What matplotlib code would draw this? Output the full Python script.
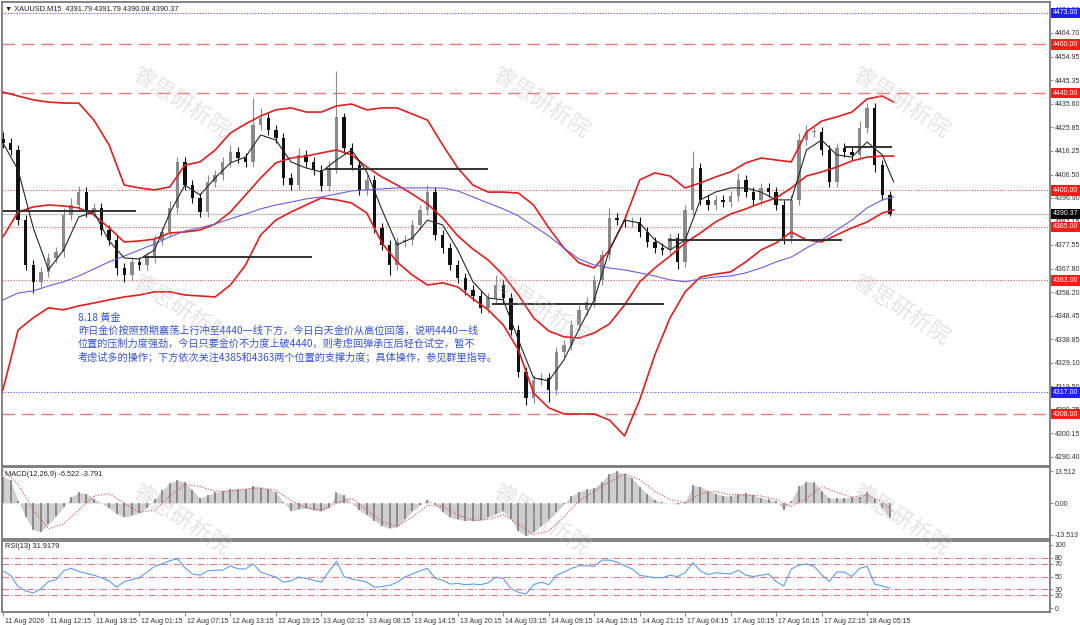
import matplotlib
matplotlib.use("Agg")
import matplotlib.pyplot as plt
import matplotlib.transforms as mtransforms
import numpy as np

# ---------------- data ----------------
# hourly-ish candles (every 4th M15 bar)
first_open = 4421.0
closes = [4419.5, 4416.6, 4387.9, 4369.3, 4362.4, 4366.5, 4372.2, 4374.7, 4389.9, 4394.0,
          4399.3, 4391.1, 4392.8, 4383.7, 4379.6, 4368.1, 4365.2, 4370.6, 4369.3, 4372.2,
          4379.6, 4382.9, 4392.8, 4411.7, 4402.2, 4396.9, 4391.1, 4403.5, 4406.3, 4411.7,
          4415.8, 4413.3, 4411.7, 4426.9, 4429.8, 4424.8, 4421.5, 4405.1, 4402.2, 4414.6,
          4411.7, 4408.4, 4401.8, 4409.2, 4430.0, 4417.4, 4410.4, 4400.2, 4404.3, 4384.5,
          4377.6, 4369.3, 4378.8, 4379.6, 4385.8, 4392.0, 4399.3, 4381.7, 4376.3, 4369.3,
          4364.0, 4359.1, 4356.6, 4351.7, 4355.8, 4361.1, 4355.8, 4342.6, 4325.4, 4314.7,
          4322.1, 4322.9, 4318.0, 4333.6, 4336.5, 4344.7, 4350.9, 4354.1, 4363.2, 4373.5,
          4388.7, 4387.9, 4387.0, 4387.0, 4382.9, 4378.8, 4376.3, 4375.5, 4380.4, 4370.6,
          4391.9, 4409.2, 4396.1, 4394.0, 4396.1, 4395.2, 4397.7, 4404.3, 4399.3, 4396.1,
          4401.0, 4399.3, 4394.0, 4380.4, 4396.1, 4420.7, 4424.0, 4424.0, 4416.6, 4403.5,
          4417.4, 4415.8, 4414.6, 4425.7, 4433.9, 4410.4, 4398.1, 4390.37]
wick_up = [3, 2, 2, 2, 2, 2, 2, 2, 3, 3,
           2.5, 2, 2, 2, 2, 2, 2, 2, 2, 2,
           2, 2, 3, 2, 2, 2, 2, 3, 2, 2,
           3, 2, 2, 11, 4, 2, 2, 2, 2, 3,
           2, 2, 2, 3, 19, 2, 2, 2, 2, 2,
           2, 2, 2, 2, 2, 2, 3, 2, 2, 2,
           2, 2, 2, 2, 2, 4, 2, 2, 2, 2,
           2, 2, 2, 2, 2, 2, 2, 2, 2, 2,
           4, 2, 2, 2, 2, 2, 2, 2, 2, 2,
           2, 7, 2, 2, 2, 2, 2, 3, 2, 2,
           2, 2, 2, 2, 2, 3, 3, 2, 2, 2,
           2, 2, 2, 3, 2, 2, 2, 1.5]
wick_dn = [2, 2, 2, 2, 4.5, 2, 2, 2, 2, 2,
           2, 2, 2, 2, 2, 3, 3, 2, 2, 2,
           2, 2, 2, 2, 2, 2, 2, 2, 2, 2,
           2, 2, 2, 2, 2, 2, 2, 3, 2, 2,
           2, 2, 2, 2, 2, 2, 2, 2, 2, 2,
           2, 4, 2, 2, 2, 2, 2, 2, 2, 2,
           2, 2, 2, 2, 2, 2, 2, 2, 2, 3,
           2, 2, 5, 2, 2, 2, 2, 2, 2, 2,
           2, 2, 2, 2, 2, 2, 2, 2, 2, 3,
           2, 2, 2, 2, 2, 2, 2, 2, 2, 2,
           2, 2, 2, 2.5, 2, 2, 2, 2, 2, 2,
           2, 2, 2, 2, 2, 3, 2, 1]

# indicator lines sampled every 8 bars
bb_upper = [4440.4, 4438.8, 4437.2, 4436.3, 4435.9, 4435.9, 4428.9, 4418.7, 4402.2, 4401.0,
            4400.2, 4401.4, 4410.4, 4411.7, 4416.6, 4423.6, 4427.3, 4430.6, 4433.1, 4433.9,
            4432.2, 4432.2, 4434.7, 4435.5, 4433.1, 4433.9, 4433.9, 4431.4, 4428.9, 4418.7,
            4409.2, 4402.2, 4399.3, 4399.3, 4398.9, 4394.0, 4384.6, 4376.3, 4370.2, 4368.1,
            4375.5, 4387.8, 4404.3, 4407.2, 4405.9, 4401.0, 4403.1, 4405.5, 4407.6, 4411.3,
            4413.3, 4412.5, 4411.7, 4424.0, 4428.5, 4430.2, 4432.2, 4437.6, 4438.8, 4436.3]
bb_mid = [4380.9, 4391.1, 4393.2, 4394.0, 4393.6, 4392.8, 4389.9, 4384.6, 4378.8, 4379.2,
          4380.0, 4382.5, 4382.9, 4383.7, 4386.2, 4391.1, 4398.1, 4405.1, 4411.3, 4413.3,
          4414.1, 4415.4, 4416.6, 4414.6, 4409.6, 4405.5, 4402.2, 4398.5, 4394.4, 4388.7,
          4381.3, 4375.9, 4371.4, 4365.2, 4357.0, 4347.6, 4342.2, 4339.8, 4339.3, 4341.4,
          4345.1, 4352.9, 4362.4, 4368.1, 4373.0, 4378.4, 4382.5, 4387.0, 4390.3, 4392.4,
          4394.8, 4396.9, 4401.0, 4405.9, 4407.6, 4409.6, 4412.1, 4413.7, 4414.1, 4414.1]
bb_lower = [4318.0, 4342.6, 4347.6, 4351.7, 4350.9, 4352.5, 4353.7, 4355.0, 4356.2, 4357.0,
            4358.3, 4358.3, 4357.0, 4356.6, 4356.2, 4361.1, 4369.3, 4381.7, 4387.8, 4391.1,
            4394.0, 4396.9, 4396.1, 4394.8, 4390.7, 4378.4, 4370.6, 4365.2, 4361.1, 4362.0,
            4360.3, 4355.4, 4350.9, 4344.7, 4334.4, 4316.7, 4310.6, 4308.1, 4308.1, 4308.1,
            4305.6, 4299.1, 4313.9, 4332.4, 4347.6, 4358.3, 4364.4, 4365.6, 4366.5, 4370.6,
            4375.5, 4378.4, 4382.9, 4379.6, 4378.8, 4381.7, 4384.6, 4387.0, 4390.7, 4392.0]
ma_fast = [4419.5, 4408.4, 4384.6, 4367.3, 4375.5, 4389.1, 4391.1, 4379.2, 4372.2, 4371.8,
           4375.5, 4390.7, 4402.2, 4398.1, 4405.1, 4411.3, 4413.7, 4422.8, 4420.7, 4411.7,
           4409.2, 4407.6, 4412.5, 4416.6, 4407.6, 4392.0, 4377.6, 4380.4, 4387.8, 4385.8,
           4375.5, 4362.4, 4355.8, 4355.0, 4338.5, 4322.9, 4321.7, 4330.3, 4343.0, 4355.0,
           4375.5, 4387.8, 4386.6, 4379.6, 4375.5, 4379.6, 4396.1, 4399.3, 4401.0, 4401.0,
           4399.3, 4396.1, 4396.1, 4416.6, 4420.7, 4414.6, 4413.7, 4419.9, 4414.6, 4403.5]
ma_slow = [4355.0, 4357.8, 4358.7, 4360.7, 4362.4, 4364.8, 4367.7, 4370.6, 4373.0, 4375.5,
           4378.0, 4380.9, 4383.3, 4384.6, 4386.2, 4388.3, 4390.3, 4392.4, 4394.0, 4395.2,
           4396.5, 4397.3, 4398.5, 4399.8, 4400.2, 4400.6, 4401.0, 4401.0, 4401.0, 4401.0,
           4399.8, 4397.3, 4394.8, 4392.4, 4389.5, 4385.4, 4381.3, 4376.3, 4371.8, 4369.3,
           4368.1, 4367.3, 4366.1, 4364.8, 4363.2, 4362.4, 4363.6, 4364.4, 4364.8, 4366.1,
           4368.1, 4370.6, 4372.6, 4376.3, 4379.6, 4383.7, 4387.8, 4392.8, 4396.1, 4397.3]

macd_hist = [11.3, 9.8, 1.0, -6.0, -11.5, -12.2, -9.0, -5.7, -1.8, 2.7,
             4.5, 4.0, 1.9, 0.0, -2.2, -4.5, -6.0, -5.3, -4.2, -2.0,
             1.5, 5.5, 8.5, 9.8, 8.8, 5.6, 2.0, 3.5, 4.5, 5.0,
             6.1, 6.0, 6.0, 7.2, 6.4, 6.2, 4.6, 0.5, -3.4, -2.6,
             -2.2, -3.1, -3.6, -2.0, 4.5, 3.3, -0.2, -3.0, -5.2, -7.5,
             -9.7, -10.9, -10.2, -7.0, -3.5, -1.0, 1.4, -0.8, -3.8, -6.2,
             -7.0, -7.5, -7.5, -7.4, -6.2, -4.6, -3.6, -7.0, -12.0, -14.0,
             -12.5, -9.8, -7.0, -4.0, -0.5, 3.0, 4.8, 5.8, 6.4, 9.0,
             12.5, 13.6, 12.2, 10.5, 7.0, 3.8, 1.4, 0.3, 0.0, -0.5,
             0.5, 7.5, 7.0, 5.3, 4.0, 3.2, 2.9, 3.8, 4.2, 3.3,
             2.1, 1.5, 0.8, -2.8, 1.0, 7.3, 9.0, 8.9, 5.0, 2.2,
             2.0, 2.2, 2.4, 2.6, 4.8, 1.5, -2.2, -6.5]
macd_signal = [14.0, 8.0, -3.0, -11.0, -9.0, -3.0, 3.0, 4.0, 0.0, -4.0,
               -3.0, 3.0, 8.0, 7.0, 5.0, 5.0, 6.0, 6.5, 5.5, 1.0,
               -2.0, -3.0, 0.0, 2.0, -3.0, -8.0, -10.0, -6.0, -1.0, -1.5,
               -5.0, -7.5, -7.0, -5.0, -9.0, -13.5, -12.0, -6.0, 1.0, 5.0,
               9.0, 12.5, 10.0, 5.0, 1.5, 0.0, 4.0, 5.0, 3.5, 3.5,
               3.0, 1.5, -1.5, 2.0, 7.0, 4.5, 2.5, 3.5, 0.5, -3.8]
rsi = [59, 52, 34, 27, 24, 30, 42, 45, 59, 63,
       58, 55, 52, 48, 43, 33, 42, 45, 48, 57,
       66, 70, 75, 78, 64, 54, 52, 59, 60, 60,
       67, 62, 62, 70, 57, 53, 49, 41, 43, 49,
       47, 44, 41, 58, 74, 50, 46, 44, 41, 33,
       34, 36, 41, 49, 54, 59, 63, 47, 44, 38,
       39, 37, 38, 37, 40, 49, 47, 31, 25, 22,
       37, 41, 37, 52, 57, 63, 67, 67, 66, 76,
       76, 73, 67, 62, 52, 50, 48, 48, 52, 50,
       56, 72, 59, 53, 56, 55, 54, 60, 52, 50,
       52, 54, 42, 35, 62, 68, 70, 66, 53, 42,
       57, 57, 50, 63, 66, 38, 35, 31.9]

# drawn support / resistance segments: (start bar, end bar, price)
seg_start = [0, 74, 170, 258, 351, 444]
seg_end = [70, 163, 256, 349, 443, 469]
seg_price = [4391.5, 4372.6, 4408.8, 4353.3, 4379.6, 4417.8]

level_values = [4473.0, 4460.0, 4440.0, 4400.0, 4385.0, 4363.0, 4317.0, 4308.0]
level_colors = ["#5050ff", "#e57a7a", "#e57a7a", "#e05555", "#e05555", "#e05555", "#5050ff", "#e57a7a"]
level_kinds = ["dot", "dash", "dash", "dot", "dot", "dot", "dot", "dash"]
last_price = 4390.37

price_ticks = [4474.30, 4464.70, 4454.95, 4445.35, 4435.60, 4425.85, 4416.25, 4406.50,
               4396.90, 4387.15, 4377.55, 4367.80, 4358.20, 4348.45, 4338.85, 4329.10,
               4319.50, 4309.75, 4300.15, 4290.40]
time_labels = ["11 Aug 2026", "11 Aug 12:15", "11 Aug 18:15", "12 Aug 01:15", "12 Aug 07:15",
               "12 Aug 13:15", "12 Aug 19:15", "13 Aug 02:15", "13 Aug 08:15", "13 Aug 14:15",
               "13 Aug 20:15", "14 Aug 03:15", "14 Aug 09:15", "14 Aug 15:15", "14 Aug 21:15",
               "17 Aug 04:15", "17 Aug 10:15", "17 Aug 16:15", "17 Aug 22:15", "18 Aug 05:15"]
rsi_levels = [80, 70, 50, 30, 20]

note_lines = [
    "8.18 黄金",
    "昨日金价按照预期震荡上行冲至4440一线下方，今日白天金价从高位回落，说明4440一线",
    "位置的压制力度强劲，今日只要金价不力度上破4440，则考虑回弹承压后轻仓试空，暂不",
    "考虑试多的操作；下方依次关注4385和4363两个位置的支撑力度；具体操作，参见群里指导。",
]
watermark = "睿思研析院"

# ---------------- layout ----------------
W, H = 1080, 625
fig = plt.figure(figsize=(W / 100, H / 100), dpi=100)
fig.patch.set_facecolor("white")
CJK = ["Noto Sans CJK SC", "DejaVu Sans"]
SMALL = ["Liberation Sans", "DejaVu Sans"]
plt.rcParams["font.family"] = SMALL
FS = 5.0


def px_axes(left, top, right, bottom):
    return fig.add_axes([left / W, 1 - bottom / H, (right - left) / W, (bottom - top) / H])


ax = px_axes(2, 2, 1050, 466)
ax_macd = px_axes(2, 467, 1050, 539)
ax_rsi = px_axes(2, 541, 1050, 612)

xmax = 552.5
for a in (ax, ax_macd, ax_rsi):
    a.set_xlim(-0.5, xmax)
    for s in a.spines.values():
        s.set_color("#7a7a7a")
        s.set_linewidth(1.3)
    a.yaxis.tick_right()
    a.tick_params(axis="y", length=2.5, width=0.6, colors="#7a7a7a", labelcolor="#333333",
                  labelsize=FS, pad=1.0)
    a.tick_params(axis="x", bottom=False, labelbottom=False)

# ---------------- price panel ----------------
closes = np.array(closes)
cidx = np.arange(len(closes)) * 4
opens = np.concatenate([[first_open], closes[:-1]])
highs = np.maximum(opens, closes) + np.array(wick_up)
lows = np.minimum(opens, closes) - np.array(wick_dn)
up = closes >= opens
body_col = np.where(up, "#8a8a8a", "#111111")
ax.vlines(cidx, lows, highs, colors=body_col, lw=0.8, zorder=3)
body_h = np.maximum(np.abs(closes - opens), 0.4)
ax.bar(cidx, body_h, bottom=np.minimum(opens, closes), width=1.8, color=body_col,
       linewidth=0, zorder=3)

ind_idx = list(range(0, 8 * 59, 8)) + [470]
ax.plot(ind_idx, bb_upper, color="#e01e1e", lw=1.2, zorder=4)
ax.plot(ind_idx, bb_mid, color="#e01e1e", lw=1.2, zorder=4)
ax.plot(ind_idx, bb_lower, color="#e01e1e", lw=1.2, zorder=4)
ax.plot(ind_idx, ma_slow, color="#6a5fd8", lw=0.8, zorder=4)
ax.plot(ind_idx, ma_fast, color="#1e2a22", lw=0.8, zorder=4)

for v, c, k in zip(level_values, level_colors, level_kinds):
    if k == "dash":
        ax.axhline(v, color=c, lw=1.0, dashes=(9, 5), zorder=2)
    else:
        ax.axhline(v, color=c, lw=0.8, dashes=(1, 1.5), zorder=2)
ax.axhline(last_price, color="#c8c8c8", lw=1.0, zorder=1)

ax.hlines(seg_price, seg_start, seg_end, color="#333333", lw=1.4, zorder=5)

ax.set_ylim(4286.7, 4477.44)
ax.set_yticks(price_ticks)
ax.set_yticklabels([f"{v:.2f}" for v in price_ticks])

tr = mtransforms.blended_transform_factory(ax.transAxes, ax.transData)
tag_vals = level_values + [last_price]
tag_cols = ["#1f1fff", "#ff1a1a", "#ff1a1a", "#ff1a1a", "#ff1a1a", "#ff1a1a", "#1f1fff", "#ff1a1a", "#000000"]
for v, c in zip(tag_vals, tag_cols):
    ax.text(1.0025, v, f"{v:.2f}", transform=tr, ha="left", va="center", fontsize=FS,
            color="white", bbox=dict(boxstyle="square,pad=0.25", fc=c, ec="none"),
            clip_on=False, zorder=6)

ax.text(0.003, 0.993, "▼ XAUUSD,M15  4391.79 4391.79 4390.08 4390.37", transform=ax.transAxes,
        ha="left", va="top", fontsize=FS + 0.3, color="#222222")

ax.text(0.0725, 0.330, "\n".join(note_lines), transform=ax.transAxes, ha="left", va="top",
        fontsize=7.3, color="#3352d6", family=CJK, linespacing=1.33, zorder=7)

# ---------------- MACD panel ----------------
ax_macd.fill_between(cidx, 0, macd_hist, color="#cfcfcf", lw=0, zorder=2)
ax_macd.vlines(cidx, 0, macd_hist, color="#777777", lw=1.1, zorder=3)
ax_macd.plot(ind_idx, macd_signal, color="#e04848", lw=0.8, dashes=(1, 1.5), zorder=4)
ax_macd.set_ylim(-15.4, 15.4)
ax_macd.set_yticks([13.512, 0.0, -13.513])
ax_macd.set_yticklabels(["13.512", "0.00", "-13.513"])
ax_macd.text(0.003, 0.95, "MACD(12,26,9) -6.522 -3.791", transform=ax_macd.transAxes,
             ha="left", va="top", fontsize=FS + 0.3, color="#222222")

# ---------------- RSI panel ----------------
for lv in rsi_levels:
    ax_rsi.axhline(lv, color="#e07585", lw=0.8, dashes=(6, 2, 1, 2), zorder=1)
ax_rsi.plot(cidx, rsi, color="#5b9fe8", lw=0.8, zorder=3)
ax_rsi.set_ylim(-6.3, 106.3)
ax_rsi.set_yticks([100, 80, 70, 50, 30, 20, 0])
ax_rsi.set_yticklabels(["100", "80", "70", "50", "30", "20", "0"])
ax_rsi.text(0.003, 0.97, "RSI(13) 31.9179", transform=ax_rsi.transAxes,
            ha="left", va="top", fontsize=FS + 0.3, color="#222222")

tick_pos = np.arange(len(time_labels)) * 24
ax_rsi.tick_params(axis="x", bottom=True, labelbottom=True, length=3, width=0.6,
                   colors="#7a7a7a", labelcolor="#333333", labelsize=FS, pad=1)
ax_rsi.set_xticks(tick_pos)
ax_rsi.set_xticklabels(time_labels, ha="left")
shift = mtransforms.ScaledTranslation(2 / 100, 0, fig.dpi_scale_trans)
for lab in ax_rsi.get_xticklabels():
    lab.set_transform(lab.get_transform() + shift)

# ---------------- watermarks ----------------
for cx in (180, 540, 900):
    for cy in (103, 310, 520):
        fig.text(cx / W, 1 - cy / H, watermark, ha="center", va="center", rotation=-33,
                 fontsize=16, color="#bdbdbd", alpha=0.4, family=CJK, zorder=10)

fig.savefig("out.png", dpi=100, facecolor="white")
